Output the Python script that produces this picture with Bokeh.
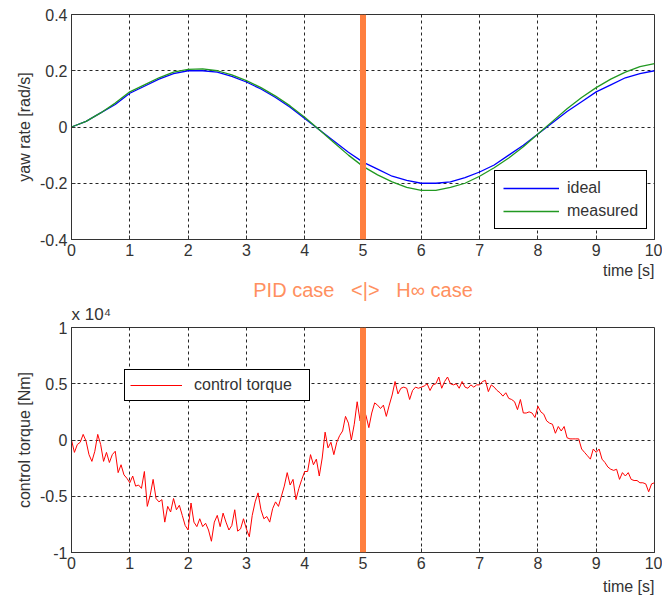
import numpy as np
from bokeh.plotting import figure
from bokeh.layouts import column
from bokeh.models import Range1d, FixedTicker, Span, Legend, LegendItem, Title
from bokeh.embed import file_html
from bokeh.resources import INLINE

# ---------------- data ----------------
time_yaw = [0.0, 0.25, 0.5, 0.75, 1.0, 1.25, 1.5, 1.75, 2.0, 2.25, 2.5, 2.75, 3.0, 3.25,
            3.5, 3.75, 4.0, 4.25, 4.5, 4.75, 5.0, 5.25, 5.5, 5.75, 6.0, 6.25, 6.5, 6.75,
            7.0, 7.25, 7.5, 7.75, 8.0, 8.25, 8.5, 8.75, 9.0, 9.25, 9.5, 9.75, 10.0]
yaw_ideal = [0.0, 0.02, 0.05, 0.08, 0.12, 0.145, 0.17, 0.19, 0.20, 0.20, 0.195, 0.18, 0.16,
             0.135, 0.105, 0.07, 0.03, -0.01, -0.05, -0.09, -0.125, -0.15, -0.175, -0.19,
             -0.20, -0.20, -0.195, -0.18, -0.16, -0.135, -0.10, -0.065, -0.025, 0.015,
             0.055, 0.09, 0.125, 0.15, 0.175, 0.19, 0.20]
yaw_measured = [0.0, 0.02, 0.05, 0.085, 0.125, 0.15, 0.175, 0.195, 0.205, 0.207, 0.20, 0.185,
                0.165, 0.14, 0.11, 0.075, 0.035, -0.01, -0.055, -0.10, -0.14, -0.17, -0.195,
                -0.215, -0.225, -0.225, -0.215, -0.20, -0.175, -0.145, -0.11, -0.07, -0.025,
                0.02, 0.065, 0.105, 0.14, 0.17, 0.195, 0.215, 0.225]

# control torque in units of 1e4 Nm, sampled every 0.05 s
time_torque = np.round(np.arange(201) * 0.05, 2)
torque = [
    0.00, -0.11, -0.04, -0.02, 0.05, -0.01, -0.13, -0.19, -0.10, 0.05, -0.04, -0.19, -0.11, -0.20, -0.13, -0.10, -0.29, -0.22, -0.31, -0.34,
    -0.38, -0.32, -0.41, -0.40, -0.43, -0.28, -0.59, -0.49, -0.35, -0.52, -0.55, -0.53, -0.73, -0.59, -0.64, -0.52, -0.62, -0.58, -0.67, -0.76,
    -0.80, -0.56, -0.73, -0.77, -0.70, -0.77, -0.74, -0.80, -0.90, -0.73, -0.67, -0.77, -0.65, -0.73, -0.80, -0.76, -0.62, -0.81, -0.79, -0.70,
    -0.79, -0.86, -0.67, -0.55, -0.47, -0.62, -0.70, -0.68, -0.73, -0.61, -0.55, -0.59, -0.50, -0.41, -0.29, -0.40, -0.35, -0.53, -0.43, -0.35,
    -0.28, -0.28, -0.13, -0.22, -0.17, -0.32, -0.16, 0.07, -0.07, -0.02, -0.13, -0.02, 0.04, 0.08, 0.21, 0.15, 0.00, 0.14, 0.34, 0.17,
    0.28, 0.22, 0.11, 0.24, 0.33, 0.31, 0.28, 0.31, 0.21, 0.31, 0.40, 0.52, 0.41, 0.46, 0.47, 0.46, 0.36, 0.44, 0.47, 0.46,
    0.47, 0.48, 0.50, 0.44, 0.49, 0.50, 0.56, 0.46, 0.52, 0.56, 0.50, 0.49, 0.50, 0.46, 0.52, 0.47, 0.46, 0.49, 0.47, 0.49,
    0.49, 0.52, 0.53, 0.43, 0.49, 0.47, 0.44, 0.42, 0.39, 0.42, 0.37, 0.36, 0.34, 0.27, 0.36, 0.24, 0.24, 0.25, 0.24, 0.20,
    0.30, 0.25, 0.23, 0.17, 0.15, 0.14, 0.06, 0.12, 0.08, 0.12, 0.02, 0.01, 0.01, 0.01, 0.01, -0.08, -0.11, -0.14, -0.17, -0.08,
    -0.11, -0.08, -0.17, -0.20, -0.24, -0.26, -0.27, -0.26, -0.35, -0.29, -0.32, -0.29, -0.35, -0.36, -0.36, -0.38, -0.38, -0.39, -0.46, -0.39,
    -0.38,
]

x_ticks = [0, 1, 2, 3, 4, 5, 6, 7, 8, 9, 10]
yaw_ticks = [-0.4, -0.2, 0, 0.2, 0.4]
yaw_tick_labels = ["-0.4", "-0.2", "0", "0.2", "0.4"]
torque_ticks = [-1, -0.5, 0, 0.5, 1]
torque_tick_labels = ["-1", "-0.5", "0", "0.5", "1"]
switch_time = 5

FONT = "Liberation Sans"
TXT = "#333333"
ORANGE_LINE = "#ff7f3f"
ORANGE_TEXT = "#ff9060"
NB = "\u00a0"


def style(p, yticks, ylabels, ylabel, xlabel_standoff):
    p.xaxis.ticker = FixedTicker(ticks=x_ticks)
    p.yaxis.ticker = FixedTicker(ticks=yticks)
    p.yaxis.major_label_overrides = {v: l for v, l in zip(yticks, ylabels)}
    p.xaxis.major_label_overrides = {v: str(v) for v in x_ticks}
    p.yaxis.axis_label = ylabel
    for ax in (p.xaxis[0], p.yaxis[0]):
        ax.major_label_text_font = FONT
        ax.major_label_text_font_size = "16px"
        ax.major_label_text_color = TXT
        ax.axis_line_color = TXT
        ax.major_tick_line_color = TXT
        ax.major_tick_in = 4
        ax.major_tick_out = 0
        ax.minor_tick_line_color = None
        ax.major_label_standoff = 4
        ax.axis_label_standoff = 4
        ax.axis_label_text_font = FONT
        ax.axis_label_text_font_size = "16px"
        ax.axis_label_text_font_style = "normal"
        ax.axis_label_text_color = TXT
    p.grid.grid_line_color = "black"
    p.grid.grid_line_dash = "3 3"
    p.grid.grid_line_alpha = 0.85
    p.outline_line_color = TXT
    p.outline_line_alpha = 1
    p.background_fill_color = "white"
    p.border_fill_color = "white"
    p.add_layout(Span(location=switch_time, dimension="height",
                      line_color=ORANGE_LINE, line_width=6))
    p.add_layout(Title(text="time [s]", align="right", text_font=FONT, text_font_size="16px",
                       text_font_style="normal", text_color=TXT, standoff=xlabel_standoff),
                 "below")


# ---------------- top: yaw rate ----------------
p1 = figure(width=662, height=279, x_range=Range1d(0, 10), y_range=Range1d(-0.4, 0.4),
            output_backend="svg", toolbar_location=None,
            min_border_left=71, min_border_right=6, min_border_top=14, min_border_bottom=0)
r_ideal = p1.line(time_yaw, yaw_ideal, line_color="#0000ff", line_width=1.3)
r_meas = p1.line(time_yaw, yaw_measured, line_color="#229922", line_width=1.3)
style(p1, yaw_ticks, yaw_tick_labels, "yaw rate [rad/s]", 2)
leg1 = Legend(items=[LegendItem(label="ideal", renderers=[r_ideal]),
                     LegendItem(label="measured", renderers=[r_meas])],
              location=(423, 10), margin=0, padding=8, spacing=5,
              glyph_width=56, glyph_height=18, label_height=18, label_standoff=8,
              label_text_font=FONT, label_text_font_size="16px", label_text_color=TXT,
              border_line_color="black", border_line_alpha=1, background_fill_alpha=1)
p1.add_layout(leg1)

# ---------------- bottom: control torque ----------------
p2 = figure(width=662, height=319, x_range=Range1d(0, 10), y_range=Range1d(-1, 1),
            output_backend="svg", toolbar_location=None,
            min_border_left=71, min_border_right=8, min_border_top=46, min_border_bottom=0)
r_torque = p2.line(time_torque, torque, line_color="#ff0000", line_width=1)
style(p2, torque_ticks, torque_tick_labels, "control torque [Nm]", 8)
leg2 = Legend(items=[LegendItem(label="control torque", renderers=[r_torque])],
              location=(53, 151), margin=0, padding=5, spacing=0,
              glyph_width=52, glyph_height=20, label_height=20, label_standoff=12,
              label_width=110,
              label_text_font=FONT, label_text_font_size="16px", label_text_color=TXT,
              border_line_color="black", border_line_alpha=1, background_fill_alpha=1)
p2.add_layout(leg2)
p2.add_layout(Title(text="x 10\u2074", align="left", text_font=FONT, text_font_size="17px",
                    text_font_style="normal", text_color=TXT, standoff=8), "above")
p2.add_layout(Title(text=f"PID case{NB*3}<|>{NB*3}H\u221e case", align="center", text_font=FONT,
                    text_font_size="20px", text_font_style="normal",
                    text_color=ORANGE_TEXT, standoff=-5), "above")

layout = column(p1, p2, spacing=0)
open("out.html", "w").write(file_html(layout, INLINE))
